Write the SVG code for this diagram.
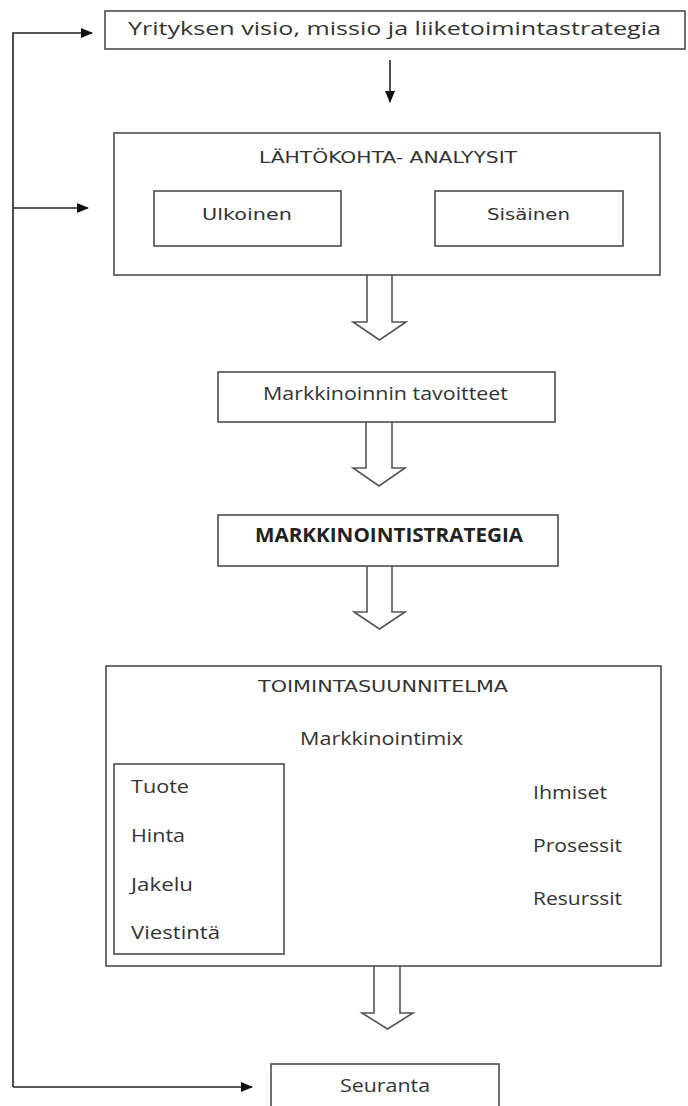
<svg xmlns="http://www.w3.org/2000/svg" width="688" height="1106" viewBox="0 0 688 1106">
<defs>
<marker id="ah" markerWidth="12" markerHeight="10" refX="11" refY="5" orient="auto" markerUnits="userSpaceOnUse">
<path d="M0,0 L12,5 L0,10 z" fill="#111"/>
</marker>
<style>
.box{fill:#fff;stroke:#4d4d4d;stroke-width:1.6}
.t{font-family:"Open Sans","Liberation Sans",sans-serif;font-size:19px;fill:#333}
.g{font-family:"DejaVu Sans","Liberation Sans",sans-serif;font-size:16px;fill:#333}
.b{font-family:"Open Sans","Liberation Sans",sans-serif;font-size:19px;font-weight:bold;fill:#222}
.ln{fill:none;stroke:#222;stroke-width:1.6}
.hol{fill:#fff;stroke:#555;stroke-width:1.6;stroke-linejoin:miter}
</style>
</defs>
<rect width="688" height="1106" fill="#fff"/>

<g id="connectors">
<path class="ln" d="M13,1087 L13,33 L92,33" marker-end="url(#ah)"/>
<path class="ln" d="M13,208 L88,208" marker-end="url(#ah)"/>
<path class="ln" d="M13,1087 L252,1087" marker-end="url(#ah)"/>
<path class="ln" d="M390,60 L390,102" marker-end="url(#ah)"/>
<path class="hol" d="M367,275 L367,322 L353,322 L379.5,340 L406,322 L392,322 L392,275"/>
<path class="hol" d="M366,422 L366,468 L353,468 L379,486 L405,468 L392,468 L392,422"/>
<path class="hol" d="M367,566 L367,612 L354,612 L379.5,629 L405,612 L392,612 L392,566"/>
<path class="hol" d="M374,966 L374,1013 L362,1013 L387.5,1029 L413,1013 L400,1013 L400,966"/>
</g>

<g id="visio">
<rect class="box" x="105" y="11" width="580" height="38"/>
<text class="t" x="128" y="35" font-size="20" fill="#1f1f3a" textLength="533" lengthAdjust="spacingAndGlyphs">Yrityksen visio, missio ja liiketoimintastrategia</text>
</g>

<g id="lahtokohta">
<rect class="box" x="114" y="133" width="546" height="142"/>
<text class="g" x="259" y="163" textLength="258" lengthAdjust="spacingAndGlyphs">LÄHTÖKOHTA- ANALYYSIT</text>
</g>
<g id="ulkoinen">
<rect class="box" x="154" y="191" width="187" height="55"/>
<text class="g" x="202" y="220" textLength="90" lengthAdjust="spacingAndGlyphs">Ulkoinen</text>
</g>
<g id="sisainen">
<rect class="box" x="435" y="191" width="188" height="55"/>
<text class="g" x="487" y="220" textLength="83" lengthAdjust="spacingAndGlyphs">Sisäinen</text>
</g>

<g id="tavoitteet">
<rect class="box" x="218" y="372" width="337" height="50"/>
<text class="t" x="263" y="400" textLength="245" lengthAdjust="spacingAndGlyphs">Markkinoinnin tavoitteet</text>
</g>

<g id="strategia">
<rect class="box" x="218" y="515" width="340" height="51"/>
<text class="b" x="255" y="542" textLength="268" lengthAdjust="spacingAndGlyphs">MARKKINOINTISTRATEGIA</text>
</g>

<g id="toimintasuunnitelma">
<rect class="box" x="106" y="666" width="555" height="300"/>
<text class="g" x="258" y="692" textLength="250" lengthAdjust="spacingAndGlyphs">TOIMINTASUUNNITELMA</text>
<text class="t" x="300" y="745" textLength="163" lengthAdjust="spacingAndGlyphs">Markkinointimix</text>
<text class="t" x="533" y="799" textLength="74" lengthAdjust="spacingAndGlyphs">Ihmiset</text>
<text class="t" x="533" y="852" textLength="89" lengthAdjust="spacingAndGlyphs">Prosessit</text>
<text class="t" x="533" y="905" textLength="89" lengthAdjust="spacingAndGlyphs">Resurssit</text>
</g>

<g id="mix">
<rect class="box" x="114" y="764" width="170" height="190"/>
<text class="t" x="131" y="793" textLength="58" lengthAdjust="spacingAndGlyphs">Tuote</text>
<text class="t" x="131" y="842" textLength="54" lengthAdjust="spacingAndGlyphs">Hinta</text>
<text class="t" x="131" y="891" textLength="62" lengthAdjust="spacingAndGlyphs">Jakelu</text>
<text class="t" x="131" y="939" textLength="89" lengthAdjust="spacingAndGlyphs">Viestintä</text>
</g>

<g id="seuranta">
<rect class="box" x="271" y="1064" width="228" height="60"/>
<text class="t" x="340" y="1092" textLength="90" lengthAdjust="spacingAndGlyphs">Seuranta</text>
</g>
</svg>
